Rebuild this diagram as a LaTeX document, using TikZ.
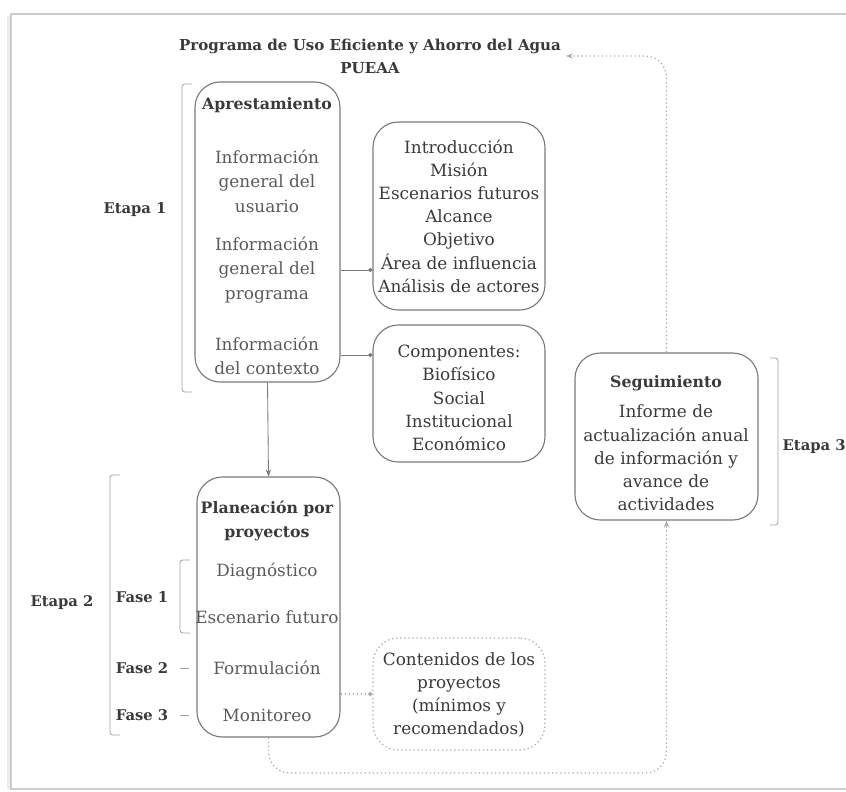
\documentclass[tikz,border=0pt]{standalone}
\usepackage{fontspec}
\setmainfont{DejaVu Serif}
\usetikzlibrary{arrows.meta,fit}
\definecolor{boxgray}{HTML}{7A7A7A}
\definecolor{txtgray}{HTML}{5A5A5A}
\definecolor{txtdark}{HTML}{3A3A3A}
\definecolor{dotgray}{HTML}{AAAAAA}
\tikzset{box/.style={draw=boxgray, line width=0.8pt, rounded corners=18pt, inner sep=0pt},
    dotbox/.style={draw=dotgray, line width=0.9pt, dotted, rounded corners=18pt, inner sep=0pt},
    head/.style={font=\fontsize{11.2}{16.5}\selectfont\bfseries, text=txtdark, align=center},
    item/.style={font=\fontsize{12}{17.5}\selectfont, text=txtgray, align=center},
    list/.style={font=\fontsize{12}{16.5}\selectfont, text=txtdark, align=center},
    etapa/.style={font=\fontsize{10.5}{13}\selectfont\bfseries, text=txtdark},
    link/.style={draw=boxgray, line width=0.6pt, -{Circle[length=3pt]}},
    dotlink/.style={draw=dotgray, line width=0.9pt, dotted, rounded corners=15pt},
    brack/.style={draw=boxgray!70, line width=0.6pt, rounded corners=2pt},
    frame/.style={draw=gray!40, line width=1pt}}

\begin{document}
\begin{tikzpicture}[x=0.025cm, y=-0.025cm]
\useasboundingbox (0,0) rectangle (846,791);
\clip (0,0) rectangle (846,791);
% page frame
\draw[gray!15, line width=2pt] (8.5,16) -- (8.5,789);
\draw[frame] (846,14) -- (11,14) -- (11,789) -- (846,789);

% title
\node[head, font=\fontsize{10.7}{16.5}\selectfont\bfseries] (title) at (370,56) {Programa de Uso Eficiente y Ahorro del Agua\\PUEAA};

% Etapa 1
\node[box, fit={(195,82) (340,382)}] (aprest) {};
\node[head] (aprtxt) at (267,105) {Aprestamiento};
\node[item] (usuario) at (267,181) {Información\\general del\\usuario};
\node[item] (programa) at (267,270) {Información\\general del\\programa};
\node[item] (contexto) at (267,356) {Información\\del contexto};

\node[box, fit={(373,122) (545,310)}] (intro) {};
\node[list] (introtxt) at (459,216) {Introducción\\Misión\\Escenarios futuros\\Alcance\\Objetivo\\Área de influencia\\Análisis de actores};
\node[box, fit={(373,325) (545,462)}] (comp) {};
\node[list] (comptxt) at (459,398) {Componentes:\\Biofísico\\Social\\Institucional\\Económico};

\draw[link] (aprest.east |- programa) -- (intro.west |- programa);
\draw[link] (aprest.east |- 0,355) -- (comp.west |- 0,355);

\draw[brack] (192,84) -- (182,84) -- (182,392) -- (192,392);
\node[etapa] (etapa1) at (135,210) {Etapa 1};

% Etapa 2
\node[box, fit={(197,477) (340,737)}] (plan) {};
\node[head] (plantxt) at (267,521) {Planeación por\\proyectos};
\node[item] (diag) at (267,572) {Diagnóstico};
\node[item] (escen) at (267,617) {Escenario futuro};
\node[item] (formul) at (267,668) {Formulación};
\node[item] (monit) at (267,715) {Monitoreo};

\draw[draw=boxgray, line width=0.6pt, -{Stealth[length=5pt]}] (aprest.south) -- (plan.north);

\node[dotbox, fit={(373,638) (545,750)}] (conten) {};
\node[list] (contxt) at (459,695) {Contenidos de los\\proyectos\\(mínimos y\\recomendados)};
\draw[dotlink, -{Circle[length=3pt]}] (plan.east |- 0,694) -- (conten.west |- 0,694);

\draw[brack] (120,475) -- (110,475) -- (110,735) -- (120,735);
\node[etapa] (etapa2) at (62,603) {Etapa 2};
\draw[brack] (190,560) -- (180,560) -- (180,633) -- (190,633);
\node[etapa] (fase1) at (142,597) {Fase 1};
\node[etapa] (fase2) at (142,668) {Fase 2};
\node[etapa] (fase3) at (142,715) {Fase 3};
\draw[brack] (180,668) -- (189,668);
\draw[brack] (180,715) -- (189,715);

% Etapa 3
\node[box, fit={(575,353) (758,520)}] (segui) {};
\node[head] (segtxt) at (666,383) {Seguimiento};
\node[list] (infotxt) at (666,458) {Informe de\\actualización anual\\de información y\\avance de\\actividades};
\draw[brack] (770,358) -- (778,358) -- (778,525) -- (770,525);
\node[etapa, anchor=west, inner sep=1pt] (etapa3) at (781,447) {Etapa 3};

% lazo de seguimiento
\coordinate (low) at (0,773);
\draw[dotlink, -{Stealth[length=5pt]}] (plan.south) -- (plan.south |- low) -| (segui.south);
\draw[dotlink, -{Stealth[length=5pt]}] (segui.north) |- (title.east);
\end{tikzpicture}
\end{document}
